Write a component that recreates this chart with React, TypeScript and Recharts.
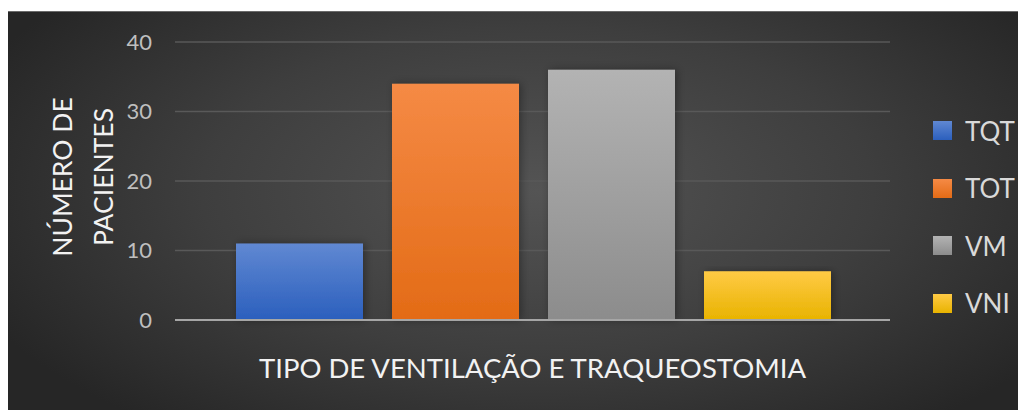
import { BarChart, Bar, XAxis, YAxis, CartesianGrid, Legend } from 'recharts';

const categories = [''];
const seriesNames = ['TQT', 'TOT', 'VM', 'VNI'];
const seriesValues = [11, 34, 36, 7];
const yTicks = [0, 10, 20, 30, 40];

const gradients: Record<string, [string, string]> = {
  TQT: ['#6088d2', '#2b5fbd'],
  TOT: ['#f58a45', '#e36b16'],
  VM: ['#b3b3b3', '#8c8c8c'],
  VNI: ['#ffca45', '#e8b300'],
};

const data = categories.map((name) => {
  const row: Record<string, string | number> = { name };
  seriesNames.forEach((s, i) => {
    row[s] = seriesValues[i];
  });
  return row;
});

const FONT = 'Lato, "Open Sans", sans-serif';

const renderLegend = () => (
  <div style={{ fontFamily: FONT }}>
    {seriesNames.map((s) => (
      <div key={s} style={{ display: 'flex', alignItems: 'center', height: 57.5, whiteSpace: 'nowrap' }}>
        <div
          style={{
            width: 19,
            height: 19,
            flexShrink: 0,
            background: `linear-gradient(${gradients[s][0]}, ${gradients[s][1]})`,
            marginRight: 13,
          }}
        />
        <span style={{ color: '#d9d9d9', fontSize: 26 }}>{s}</span>
      </div>
    ))}
  </div>
);

const App = () => {
  return (
    <div
      style={{
        marginTop: 3,
        width: 1018,
        height: 399,
        borderTop: '1px solid #6a6a6a',
        boxSizing: 'border-box',
        background: 'radial-gradient(ellipse 60% 75% at 52% 45%, #545454 0%, #3e3e3e 55%, #262626 100%)',
      }}
    >
      <BarChart
        width={1018}
        height={398}
        data={data}
        margin={{ top: 30, right: 36, bottom: 0, left: 0 }}
        barCategoryGap={61}
        barGap={29}
      >
        <defs>
          {seriesNames.map((s) => (
            <linearGradient key={s} id={`grad-${s}`} x1="0" y1="0" x2="0" y2="1">
              <stop offset="0%" stopColor={gradients[s][0]} />
              <stop offset="100%" stopColor={gradients[s][1]} />
            </linearGradient>
          ))}
          <filter id="shadow" x="-10%" y="-10%" width="130%" height="120%">
            <feDropShadow dx="2" dy="0" stdDeviation="4" floodColor="#000" floodOpacity="0.35" />
          </filter>
        </defs>
        <CartesianGrid vertical={false} stroke="#595959" strokeWidth={1.5} />
        <XAxis
          dataKey="name"
          height={90}
          tick={false}
          tickLine={false}
          axisLine={{ stroke: '#a6a6a6', strokeWidth: 2 }}
          label={(props: any) => {
            const vb = props.viewBox;
            return (
              <text
                x={vb.x + vb.width / 2}
                y={vb.y + 58}
                textAnchor="middle"
                fill="#f2f2f2"
                fontSize={27.5}
                fontFamily={FONT}
              >
                TIPO DE VENTILAÇÃO E TRAQUEOSTOMIA
              </text>
            );
          }}
        />
        <YAxis
          width={167}
          domain={[0, 40]}
          ticks={yTicks}
          axisLine={false}
          tickLine={false}
          tickMargin={17}
          tick={{ fill: '#bfbfbf', fontSize: 22, fontFamily: FONT }}
          label={(props: any) => {
            const vb = props.viewBox;
            const cy = vb.y + vb.height / 2 - 4;
            return (
              <text
                transform={`rotate(-90, 84, ${cy})`}
                x={84}
                y={cy}
                textAnchor="middle"
                fill="#f2f2f2"
                fontSize={26.5}
                fontFamily={FONT}
              >
                <tspan x={84} dy={-20}>NÚMERO DE</tspan>
                <tspan x={84} dy={41}>PACIENTES</tspan>
              </text>
            );
          }}
        />
        <Legend
          layout="vertical"
          align="right"
          verticalAlign="top"
          content={renderLegend}
          wrapperStyle={{ left: 925, top: 90, width: 100 }}
        />
        {seriesNames.map((s) => (
          <Bar
            key={s}
            dataKey={s}
            fill={`url(#grad-${s})`}
            filter="url(#shadow)"
            isAnimationActive={false}
          />
        ))}
      </BarChart>
    </div>
  );
};

export default App;
